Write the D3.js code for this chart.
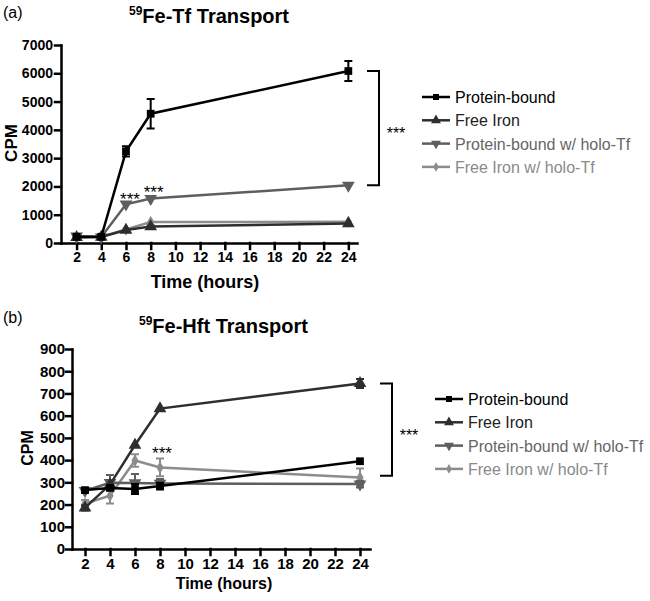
<!DOCTYPE html>
<html>
<head>
<meta charset="utf-8">
<script src="https://cdn.jsdelivr.net/npm/d3@7.9.0/dist/d3.min.js"></script>
<style>
  body { margin: 0; background: #fff; }
  text { font-family: "Liberation Sans", Arial, sans-serif; }
</style>
</head>
<body>
<svg id="chart" width="650" height="601"></svg>
<script>
const times = [2, 4, 6, 8, 24];
const timeTicks = [2, 4, 6, 8, 10, 12, 14, 16, 18, 20, 22, 24];
const seriesNames = ["Protein-bound", "Free Iron", "Protein-bound w/ holo-Tf", "Free Iron w/ holo-Tf"];

// panel (a): 59Fe-Tf transport
const tfProteinBound = [220, 220, 3240, 4570, 6080];
const tfProteinBoundErr = [0, 0, 180, 520, 350];
const tfFreeIron = [200, 210, 460, 580, 690];
const tfFreeIronErr = [0, 0, 0, 40, 0];
const tfProteinBoundHolo = [240, 210, 1370, 1570, 2040];
const tfProteinBoundHoloErr = [0, 0, 0, 0, 0];
const tfFreeIronHolo = [190, 220, 480, 740, 750];
const tfFreeIronHoloErr = [0, 0, 0, 0, 0];
const tfYTicks = [0, 1000, 2000, 3000, 4000, 5000, 6000, 7000];

// panel (b): 59Fe-Hft transport
const hftProteinBound = [265, 275, 270, 283, 395];
const hftProteinBoundErr = [10, 0, 22, 15, 0];
const hftFreeIron = [185, 290, 468, 632, 745];
const hftFreeIronErr = [12, 0, 0, 0, 20];
const hftProteinBoundHolo = [262, 298, 297, 295, 292];
const hftProteinBoundHoloErr = [0, 35, 40, 20, 15];
const hftFreeIronHolo = [205, 240, 398, 367, 322];
const hftFreeIronHoloErr = [15, 35, 28, 40, 40];
const hftYTicks = [0, 100, 200, 300, 400, 500, 600, 700, 800, 900];

const lineColors = ["#000000", "#2e2e2e", "#5e5e5e", "#8c8c8c"];
const textColors = ["#000000", "#222222", "#666666", "#8a8a8a"];
const symbols = [d3.symbolSquare, d3.symbolTriangle, d3.symbolTriangle, d3.symbolDiamond];
const symbolSizes = [60, 70, 70, 45];
const symbolRotate = [0, 0, 180, 0];

const svg = d3.select("#chart");
svg.append("rect").attr("width", 650).attr("height", 601).attr("fill", "#fff");

function drawPanel(p) {
    const g = svg.append("g");
    const x = d3.scaleLinear().domain(p.xDomain).range(p.xRange);
    const y = d3.scaleLinear().domain(p.yDomain).range(p.yRange);

    // axes
    const xAxis = g.append("g")
        .attr("transform", `translate(0,${p.yRange[0]})`)
        .call(d3.axisBottom(x).tickValues(timeTicks).tickSize(6).tickSizeOuter(0).tickPadding(3));
    const yAxis = g.append("g")
        .attr("transform", `translate(${p.xRange[0]},0)`)
        .call(d3.axisLeft(y).tickValues(p.yTicks).tickFormat(d3.format("d"))
            .tickSize(6).tickSizeOuter(0).tickPadding(p.yPad));
    [xAxis, yAxis].forEach(a => {
        a.selectAll("path, line").attr("stroke", "#000").attr("stroke-width", 2.5).attr("stroke-linecap", "square");
        a.selectAll("text").attr("font-size", p.tickFont).attr("font-weight", "bold")
            .attr("fill", "#000").style("font-family", '"Liberation Sans", Arial, sans-serif');
    });

    // series, drawn lightest first so black sits on top
    const line = d3.line().x(d => x(d.t)).y(d => y(d.v));
    for (let s = p.series.length - 1; s >= 0; s--) {
        const pts = times.map((t, i) => ({ t: t, v: p.series[s][i], e: p.errors[s][i] }));
        g.append("path").datum(pts)
            .attr("d", line).attr("fill", "none")
            .attr("stroke", lineColors[s]).attr("stroke-width", 2.5);
        pts.filter(d => d.e > 0).forEach(d => {
            const cx = x(d.t);
            g.append("path")
                .attr("d", `M${cx},${y(d.v - d.e)}V${y(d.v + d.e)}M${cx - 4},${y(d.v - d.e)}H${cx + 4}M${cx - 4},${y(d.v + d.e)}H${cx + 4}`)
                .attr("stroke", lineColors[s]).attr("stroke-width", 2).attr("fill", "none");
        });
        g.selectAll(null).data(pts).enter().append("path")
            .attr("d", d3.symbol().type(symbols[s]).size(symbolSizes[s]))
            .attr("transform", d => `translate(${x(d.t)},${y(d.v)}) rotate(${symbolRotate[s]})`)
            .attr("fill", lineColors[s]);
    }

    // significance stars next to points
    p.stars.forEach(st => {
        g.append("text").attr("x", x(st.t) + st.dx).attr("y", y(st.v) + st.dy)
            .attr("text-anchor", "middle").attr("font-size", 17).text("***");
    });

    // bracket
    const bx = p.bracket.x, by0 = y(p.bracket.top), by1 = y(p.bracket.bottom);
    g.append("path")
        .attr("d", `M${bx - 12},${by0}H${bx}V${by1}H${bx - 12}`)
        .attr("fill", "none").attr("stroke", "#000").attr("stroke-width", 2);
    g.append("text").attr("x", bx + 17).attr("y", (by0 + by1) / 2 + 11)
        .attr("text-anchor", "middle").attr("font-size", 16).text("***");

    // legend
    seriesNames.forEach((name, i) => {
        const ly = p.legend.y + i * 23.3;
        const lx = p.legend.x;
        g.append("line").attr("x1", lx).attr("x2", lx + 28).attr("y1", ly).attr("y2", ly)
            .attr("stroke", lineColors[i]).attr("stroke-width", 2.5);
        g.append("path")
            .attr("d", d3.symbol().type(symbols[i]).size(symbolSizes[i] * 0.6))
            .attr("transform", `translate(${lx + 14},${ly}) rotate(${symbolRotate[i]})`)
            .attr("fill", lineColors[i]);
        g.append("text").attr("x", lx + 33).attr("y", ly + 6)
            .attr("font-size", 16).attr("fill", textColors[i]).text(name);
    });

    // titles
    g.append("text").attr("x", 3).attr("y", p.tag.y).attr("font-size", 16).text(p.tag.text);
    const title = g.append("text").attr("x", p.title.x).attr("y", p.title.y).attr("font-weight", "bold");
    title.append("tspan").attr("font-size", 12).attr("dy", -8).text("59");
    title.append("tspan").attr("font-size", 20).attr("dy", 8).text(p.title.text);

    g.append("text").attr("x", p.xTitle.x).attr("y", p.xTitle.y)
        .attr("text-anchor", "middle").attr("font-weight", "bold").attr("font-size", p.xTitle.size)
        .text("Time (hours)");
    g.append("text")
        .attr("transform", `translate(${p.yTitle.x},${p.yTitle.y}) rotate(-90)`)
        .attr("text-anchor", "middle").attr("font-weight", "bold").attr("font-size", p.yTitle.size)
        .text("CPM");
}

drawPanel({
    xDomain: [0.74, 24.7], xRange: [61, 357],
    yDomain: [0, 7000], yRange: [243, 45], yTicks: tfYTicks, yPad: 2, tickFont: 14,
    series: [tfProteinBound, tfFreeIron, tfProteinBoundHolo, tfFreeIronHolo],
    errors: [tfProteinBoundErr, tfFreeIronErr, tfProteinBoundHoloErr, tfFreeIronHoloErr],
    stars: [{ t: 6, v: 1370, dx: 4, dy: 1 }, { t: 8, v: 1570, dx: 3, dy: -1 }],
    bracket: { x: 379, top: 6080, bottom: 2040 },
    legend: { x: 422, y: 97 },
    tag: { text: "(a)", y: 18 },
    title: { text: "Fe-Tf Transport", x: 129, y: 23 },
    xTitle: { x: 205, y: 288, size: 18 },
    yTitle: { x: 17, y: 143, size: 17 }
});

drawPanel({
    xDomain: [0.96, 24.8], xRange: [72, 370],
    yDomain: [0, 900], yRange: [549, 349], yTicks: hftYTicks, yPad: 1, tickFont: 15,
    series: [hftProteinBound, hftFreeIron, hftProteinBoundHolo, hftFreeIronHolo],
    errors: [hftProteinBoundErr, hftFreeIronErr, hftProteinBoundHoloErr, hftFreeIronHoloErr],
    stars: [{ t: 8, v: 367, dx: 2, dy: -8 }],
    bracket: { x: 392, top: 745, bottom: 330 },
    legend: { x: 435, y: 399 },
    tag: { text: "(b)", y: 323 },
    title: { text: "Fe-Hft Transport", x: 139, y: 333 },
    xTitle: { x: 224, y: 589, size: 16 },
    yTitle: { x: 33, y: 448, size: 16 }
});
</script>
</body>
</html>
